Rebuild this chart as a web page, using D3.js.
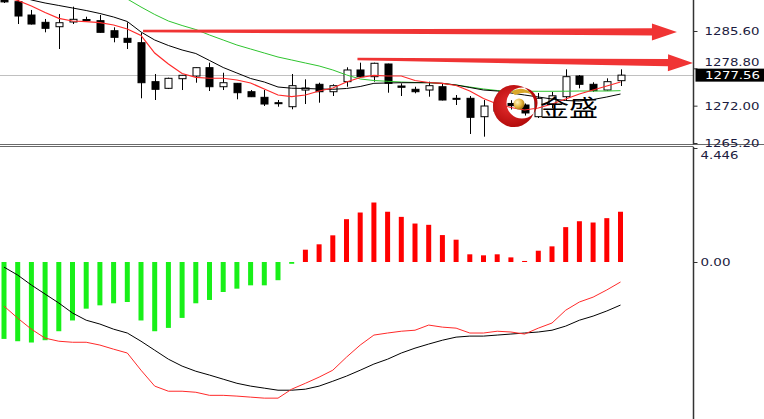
<!DOCTYPE html>
<html><head><meta charset="utf-8">
<script src="https://cdn.jsdelivr.net/npm/d3@7"></script>
<style>html,body{margin:0;padding:0;background:#fff;overflow:hidden}</style>
</head><body>
<svg id="c" width="764" height="419"></svg>
<script>
// ---------- DATA ----------
const opens  = [1292.4,1290.94,1288.51,1287.18,1286.38,1287.24,1287.69,1287.48,1285.65,1284.27,1283.47,1276.37,1275.16,1276.91,1277.40,1278.92,1275.45,1276.07,1274.54,1273.52,1272.54,1271.81,1274.85,1275.89,1274.54,1276.37,1278.50,1277.28,1279.59,1275.58,1274.98,1274.85,1275.45,1273.34,1273.34,1269.99,1271.0,1272.4,1272.12,1269.99,1272.3,1273.63,1277.40,1275.89,1274.85,1276.55];
const highs  = [1292.8,1291.3,1289.43,1287.79,1288.70,1290.03,1288.20,1288.51,1286.27,1287.18,1285.24,1277.77,1277.10,1277.60,1278.95,1279.83,1278.00,1276.13,1274.85,1274.85,1273.03,1277.77,1276.80,1276.18,1275.89,1278.99,1279.83,1279.83,1279.65,1276.07,1275.45,1276.37,1276.07,1273.94,1273.76,1273.03,1273.2,1273.0,1272.4,1274.31,1274.5,1278.62,1277.58,1276.26,1276.98,1278.62];
const lows   = [1290.7,1286.87,1286.78,1285.36,1282.32,1286.87,1287.42,1285.30,1283.54,1282.32,1273.34,1273.03,1275.03,1274.85,1276.18,1274.67,1274.85,1273.16,1273.57,1271.94,1271.81,1271.34,1272.30,1272.54,1273.76,1275.45,1277.20,1276.37,1274.36,1273.76,1274.25,1273.63,1272.95,1272.12,1266.84,1266.35,1270.5,1271.3,1270.2,1269.75,1271.5,1273.03,1275.16,1274.54,1274.73,1275.58];
const closes = [1290.9,1288.33,1286.87,1286.09,1287.11,1287.73,1287.65,1285.36,1284.45,1283.54,1276.18,1274.98,1276.98,1277.53,1278.92,1275.45,1276.18,1274.36,1273.63,1272.30,1272.50,1275.64,1275.22,1274.54,1275.64,1278.50,1277.28,1279.72,1276.07,1275.35,1274.54,1275.64,1273.03,1273.16,1269.88,1271.94,1272.5,1272.0,1270.67,1273.34,1273.8,1277.28,1275.89,1274.73,1276.37,1277.56];

const maRed   = [1291.79,1291.16,1290.15,1288.97,1287.91,1287.42,1287.29,1287.11,1286.69,1285.96,1284.78,1281.59,1279.59,1277.86,1277.17,1276.99,1276.99,1276.67,1276.13,1275.04,1273.94,1273.63,1273.94,1274.67,1275.22,1276.31,1277.13,1277.50,1277.40,1277.40,1276.58,1276.22,1276.07,1275.67,1274.67,1273.31,1272.30,1271.67,1271.21,1271.57,1272.30,1273.21,1274.13,1274.85,1275.58,1276.31];
const maBlack = [1292.70,1292.16,1291.25,1290.70,1290.25,1289.79,1289.33,1288.79,1288.15,1287.33,1285.42,1283.96,1282.96,1282.14,1281.50,1280.23,1278.95,1277.95,1276.95,1276.31,1275.40,1275.18,1275.13,1275.04,1274.98,1275.13,1275.49,1276.07,1276.13,1276.18,1276.18,1276.18,1276.07,1275.76,1275.31,1274.85,1274.67,1274.31,1273.94,1273.58,1273.21,1272.94,1272.85,1273.12,1273.58,1274.12];
const maGreen = [null,null,null,null,null,null,null,null,1292.34,1291.43,1289.97,1288.61,1287.42,1286.60,1285.87,1284.87,1283.96,1283.05,1282.32,1281.59,1280.86,1280.32,1279.77,1279.23,1278.50,1277.59,1276.86,1276.58,1276.44,1276.31,1276.22,1276.18,1276.04,1275.76,1275.40,1275.04,1274.76,1274.67,1274.63,1274.62,1274.62,1274.63,1274.67,1274.67,1274.67,1274.73];

const histogram = [-3.0,-3.09,-3.14,-3.05,-2.70,-2.28,-1.82,-1.69,-1.61,-1.56,-2.28,-2.70,-2.57,-2.18,-1.61,-1.48,-1.17,-1.04,-0.91,-0.91,-0.71,-0.07,0.48,0.69,1.04,1.67,1.93,2.32,1.96,1.76,1.50,1.45,1.05,0.87,0.30,0.26,0.30,0.18,0.04,0.44,0.61,1.36,1.59,1.54,1.71,1.96];
const macdRedLine   = [-1.72,-2.19,-2.62,-2.97,-3.09,-3.13,-3.13,-3.24,-3.40,-3.55,-4.22,-4.84,-5.04,-5.04,-5.08,-5.20,-5.20,-5.23,-5.27,-5.31,-5.31,-4.96,-4.73,-4.49,-4.22,-3.71,-3.24,-2.85,-2.77,-2.70,-2.66,-2.46,-2.54,-2.58,-2.77,-2.77,-2.70,-2.73,-2.81,-2.58,-2.38,-1.88,-1.56,-1.37,-1.09,-0.78];
const macdBlackLine = [-0.20,-0.51,-0.90,-1.25,-1.60,-1.99,-2.27,-2.42,-2.62,-2.77,-3.09,-3.44,-3.79,-4.06,-4.26,-4.41,-4.57,-4.73,-4.84,-4.92,-5.00,-5.00,-4.96,-4.84,-4.65,-4.45,-4.22,-3.98,-3.79,-3.55,-3.36,-3.20,-3.05,-2.93,-2.89,-2.89,-2.85,-2.81,-2.77,-2.73,-2.66,-2.50,-2.27,-2.11,-1.91,-1.68];

const priceTicks = [1285.60, 1278.80, 1272.00, 1265.20];
const macdTicks = [4.446, 0.00];
const lastPrice = 1277.56;
// arrows: [bar index, price] from -> to
const arrowFrom = [[10.15, 1285.60], [25.8, 1280.50]];
const arrowTo   = [[49.12, 1285.42], [50.29, 1279.77]];
const logoText = "金盛";

// ---------- LAYOUT ----------
const svg = d3.select("#c");
const W = 764, H = 419, axisX = 693.5;
const mainTop = 0, mainBottom = 144.5, subTop = 147, subBottom = 419;

const x = d3.scaleLinear().domain([0, 45]).range([4, 620.5]);
const yP = d3.scaleLinear().domain([1265.2, 1285.6]).range([143, 31]);
const yM = d3.scaleLinear().domain([0, 4.446]).range([262, 148]);
const idx = d3.range(opens.length);

const defs = svg.append("defs");
defs.append("clipPath").attr("id","clipMain").append("rect").attr("x",0).attr("y",mainTop).attr("width",axisX).attr("height",mainBottom-mainTop);
defs.append("clipPath").attr("id","clipSub").append("rect").attr("x",0).attr("y",subTop+1).attr("width",axisX).attr("height",subBottom-subTop);
const rg = defs.append("radialGradient").attr("id","gold").attr("cx","35%").attr("cy","35%").attr("r","70%");
rg.append("stop").attr("offset","0%").attr("stop-color","#fff6c0");
rg.append("stop").attr("offset","60%").attr("stop-color","#e2b33a");
rg.append("stop").attr("offset","100%").attr("stop-color","#a07010");
const rr = defs.append("radialGradient").attr("id","redg").attr("cx","40%").attr("cy","45%").attr("r","60%");
rr.append("stop").attr("offset","0%").attr("stop-color","#e83030");
rr.append("stop").attr("offset","100%").attr("stop-color","#b00808");

// ---------- MAIN PANEL ----------
const gm = svg.append("g").attr("clip-path","url(#clipMain)");
gm.append("line").attr("x1",0).attr("x2",axisX).attr("y1",Math.round(yP(lastPrice))+0.5).attr("y2",Math.round(yP(lastPrice))+0.5)
  .attr("stroke","#c0c0c0").attr("stroke-width",1);

// candles
const cg = gm.append("g");
idx.forEach(i => {
  const cx = Math.round(x(i)) + 0.5;
  cg.append("line").attr("x1",cx).attr("x2",cx).attr("y1",yP(highs[i])).attr("y2",yP(lows[i])).attr("stroke","#000").attr("stroke-width",1);
  const top = yP(Math.max(opens[i],closes[i])), bot = yP(Math.min(opens[i],closes[i]));
  const bull = closes[i] >= opens[i];
  cg.append("rect").attr("x",cx-3.5).attr("y",top).attr("width",7).attr("height",Math.max(1,bot-top))
    .attr("fill", bull ? "#fff" : "#000").attr("stroke","#000").attr("stroke-width",1);
});

const lineP = arr => d3.line().defined(d => d != null).x((d,i) => x(i)).y(d => yP(d))(arr);
gm.append("path").attr("d", lineP(maGreen)).attr("fill","none").attr("stroke","#2fc42f").attr("stroke-width",1);
gm.append("path").attr("d", lineP(maBlack)).attr("fill","none").attr("stroke","#000").attr("stroke-width",1);
gm.append("path").attr("d", lineP(maRed)).attr("fill","none").attr("stroke","#ff2a2a").attr("stroke-width",1.2);

// logo watermark
const lg = svg.append("g");
const crescent = (() => {
  const p = d3.path();
  p.arc(514, 106, 21, 0, 2*Math.PI);
  p.moveTo(522+15.5, 103);
  p.arc(522, 103, 15.5, 0, 2*Math.PI, true);
  return p.toString();
})();
lg.append("path").attr("d", crescent).attr("fill","url(#redg)").attr("fill-rule","evenodd");
lg.append("path").attr("d","M511,92 Q524,84 533,96 Q527,90 515,95 Z").attr("fill","#d9a82a");
lg.append("circle").attr("cx",519).attr("cy",104).attr("r",5.5).attr("fill","url(#gold)");
lg.append("text").attr("x",540).attr("y",116).text(logoText)
  .attr("font-family","'Noto Sans CJK SC','Noto Sans CJK JP',sans-serif").attr("font-size",23)
  .attr("textLength",58).attr("lengthAdjust","spacingAndGlyphs").attr("fill","#000");

// arrows
const ag = svg.append("g").attr("clip-path","url(#clipMain)");
arrowFrom.forEach((f, k) => {
  const t = arrowTo[k];
  const x0 = x(f[0]), y0 = yP(f[1]), x1 = x(t[0]), y1 = yP(t[1]);
  const L = Math.hypot(x1-x0, y1-y0), ux = (x1-x0)/L, uy = (y1-y0)/L, nx = -uy, ny = ux;
  const headLen = 25, headHalf = 8.5, tailHalf = 1.2, baseHalf = 3.6;
  const bx = x1 - ux*headLen, by = y1 - uy*headLen;
  const pts = [
    [x0 + nx*tailHalf, y0 + ny*tailHalf],
    [bx + nx*baseHalf, by + ny*baseHalf],
    [bx + nx*headHalf, by + ny*headHalf],
    [x1, y1],
    [bx - nx*headHalf, by - ny*headHalf],
    [bx - nx*baseHalf, by - ny*baseHalf],
    [x0 - nx*tailHalf, y0 - ny*tailHalf]
  ];
  ag.append("polygon").attr("points", pts.map(p => p.join(",")).join(" ")).attr("fill","#f03434");
});

// ---------- SUB PANEL (MACD) ----------
const gs = svg.append("g").attr("clip-path","url(#clipSub)");
idx.forEach(i => {
  const v = histogram[i];
  const y0 = yM(0), y1 = yM(v);
  gs.append("rect").attr("x", x(i)-2.5).attr("width",5)
    .attr("y", Math.min(y0,y1)).attr("height", Math.max(1, Math.abs(y1-y0)))
    .attr("fill", v >= 0 ? "#ff0000" : "#18f018");
});
const lineM = arr => d3.line().x((d,i) => x(i)).y(d => yM(d))(arr);
gs.append("path").attr("d", lineM(macdBlackLine)).attr("fill","none").attr("stroke","#000").attr("stroke-width",1);
gs.append("path").attr("d", lineM(macdRedLine)).attr("fill","none").attr("stroke","#ff2a2a").attr("stroke-width",1);

// ---------- FRAMES ----------
svg.append("line").attr("x1",0).attr("x2",W).attr("y1",144.5).attr("y2",144.5).attr("stroke","#6a6a6a");
svg.append("line").attr("x1",0).attr("x2",axisX).attr("y1",146.5).attr("y2",146.5).attr("stroke","#6a6a6a");

// ---------- AXES ----------
const axP = svg.append("g").attr("transform",`translate(${axisX},0)`)
  .call(d3.axisRight(yP).tickValues(priceTicks).tickFormat(d3.format(".2f")).tickSize(4).tickPadding(7));
axP.select(".domain").attr("d",`M0,0V${mainBottom}`).attr("stroke","#333").attr("stroke-width",1.5);
axP.selectAll(".tick line").attr("stroke","#333");
axP.selectAll(".tick text").attr("font-family","DejaVu Sans, sans-serif").attr("font-size",11).attr("fill","#1c1c40")
  .attr("textLength",55).attr("lengthAdjust","spacingAndGlyphs");
// 1278.80 sits just above the current-price box
axP.selectAll(".tick").filter(d => d === 1278.8).select("text").attr("dy","-0.22em");

const axM = svg.append("g").attr("transform",`translate(${axisX},0)`)
  .call(d3.axisRight(yM).tickValues(macdTicks).tickFormat(d => d === 0 ? "0.00" : d3.format(".3f")(d)).tickSize(4).tickPadding(3));
axM.select(".domain").attr("d",`M0,${subTop}V${subBottom}`).attr("stroke","#333").attr("stroke-width",1.5);
axM.selectAll(".tick line").attr("stroke","#333");
axM.selectAll(".tick text").attr("font-family","DejaVu Sans, sans-serif").attr("font-size",11).attr("fill","#1c1c40")
  .attr("textLength", d => d === 0 ? 30 : 38).attr("lengthAdjust","spacingAndGlyphs");
axM.selectAll(".tick").filter(d => d === 4.446).select("text").attr("dy","0.95em");

// last price box
const ly = yP(lastPrice);
svg.append("rect").attr("x",axisX+2).attr("y",ly-6.5).attr("width",W-axisX-2).attr("height",13).attr("fill","#000");
svg.append("text").attr("x",705).attr("y",ly).attr("dy","0.35em").text(d3.format(".2f")(lastPrice))
  .attr("font-family","DejaVu Sans, sans-serif").attr("font-size",11).attr("fill","#fff")
  .attr("textLength",55).attr("lengthAdjust","spacingAndGlyphs");
</script>
</body></html>
